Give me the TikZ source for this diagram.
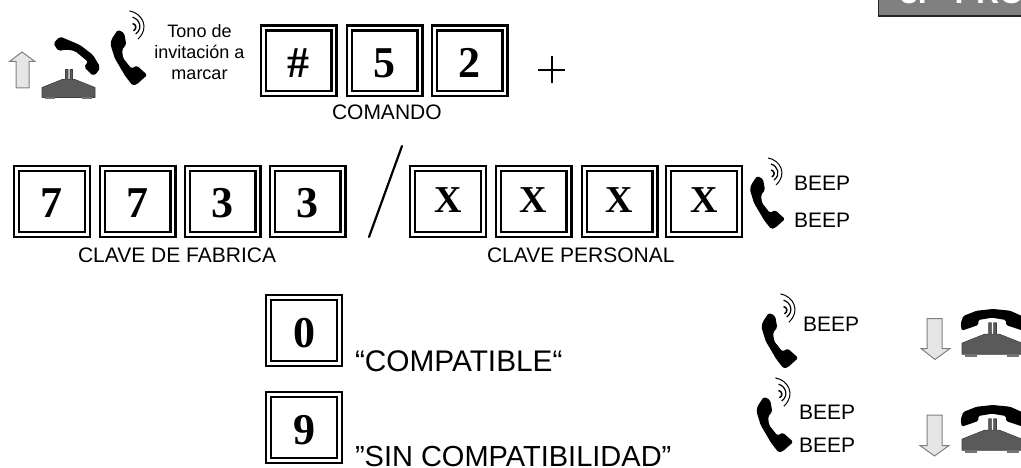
\documentclass[tikz,border=0pt]{standalone}
\usepackage{fontspec}
\setmainfont{Liberation Sans}
\newfontfamily\keyfont{Liberation Serif}
\definecolor{basegray}{HTML}{5A5A5A}
\definecolor{arrowfill}{HTML}{E6E6E6}
\definecolor{arrowline}{HTML}{808080}
\tikzset{
  keybox/.style={draw=black,line width=2.4pt,double=white,double distance=2.6pt,fill=white,
    minimum width=70.6pt,minimum height=65.6pt,inner sep=0pt,outer sep=0pt,
    text height=33pt,text depth=0pt,font=\keyfont\bfseries\fontsize{44}{44}\selectfont},
  keyx/.style={keybox,text height=23pt,font=\keyfont\bfseries\fontsize{38}{38}\selectfont},
  lbl/.style={anchor=base west,inner sep=0pt,outer sep=0pt,font=\fontsize{21}{21}\selectfont},
  biglbl/.style={lbl,font=\fontsize{29}{29}\selectfont},
  bigline/.style={line width=2.2pt,line cap=round},
  thinline/.style={line width=2pt},
  hollowarrow/.style={draw=arrowline,fill=arrowfill,line width=1pt,line join=miter},
  ringer/.pic={
    \fill[black,rounded corners=1.6pt] (17,16) -- (23,19) -- (25,30) -- (21,35) -- (22,43) -- (30,53) -- (35,50) -- (45,59) -- (35,68) -- (31,69) -- (24,60) -- (14,43) -- (10,30) -- (11,25) -- cycle;
    \draw[line width=1pt] (28,-2) .. controls (40,0) and (48,14) .. (36,25);
    \draw[line width=1.2pt] (31,4) .. controls (38,6) and (41,15) .. (34,20);
    \draw[line width=1.5pt] (31,10) .. controls (35,11) and (35,15) .. (32,17);
  },
  phonebase/.pic={
    \filldraw[fill=basegray,draw=black!75,line width=.6pt,line join=round]
      (0,1) -- (20,-7) -- (23.5,-7) -- (23.5,-17) -- (26,-17) -- (26,-7) -- (28,-7) -- (28,-17) -- (30.5,-17) -- (30.5,-7) -- (33,-7) -- (53,1) -- (53,11) -- (0,11) -- cycle;
    \fill[basegray!85] (3,11) rectangle (13,13);
    \fill[basegray!85] (40,11) rectangle (50,13);
  },
  onhook/.pic={
    \pic[scale=1.13] at (0,0) {phonebase};
    \fill[black,rounded corners=1.5pt] (-1.3,-18.7) -- (1.3,-26) -- (14.7,-31.3) -- (31,-33) -- (48,-31.3) -- (60,-26) -- (62,-18.7) -- (61,-11.3) -- (44,-17) -- (44,-22) -- (30,-24.3) -- (16.3,-22) -- (16.3,-17) -- (-0.3,-11.3) -- cycle;
  },
}
\begin{document}
\begin{tikzpicture}[x=1pt,y=-1pt]
\useasboundingbox (0,0) rectangle (1021,468);
% title box cut by the page edge
\begin{scope}
\clip (0,0) rectangle (1021,468);
\filldraw[fill=arrowline,draw=black!85,line width=1.6pt] (878.5,-5) rectangle (1030,16);
\node[lbl,text=white,font=\bfseries\fontsize{32}{32}\selectfont] (title) at (900,4) {3.\hspace{28pt}PRO};
\end{scope}
% off-hook phone
\path[hollowarrow] (22,52) -- (35,61.5) -- (29,61.5) -- (29,88) -- (16,88) -- (16,61.5) -- (9.5,61.5) -- cycle;
\pic at (42,86.5) {phonebase};
\fill[black,rounded corners=2pt] (53.3,43.3) -- (60,36.5) -- (80,45) -- (93,55) -- (100,66.7) -- (98,72) -- (93,76) -- (84,67) -- (88,61.7) -- (75,51) -- (66.7,49.5) -- (58.3,51) -- cycle;
\pic[scale=1.05] at (100,13) {ringer};
\node[align=center,inner sep=0pt,font=\fontsize{18}{21}\selectfont] (tono) at (199.5,52) {Tono de\\invitación a\\marcar};
% keys, first row
\node[keybox] (k1) at (298.5,61) {\#};
\node[keybox] (k2) at (384.5,61) {5};
\node[keybox] (k3) at (469.5,61) {2};
\draw[thinline] (538,70) -- (565,70);
\draw[thinline] (552,56) -- (552,83);
\node[lbl] (comando) at (332,120) {COMANDO};
% keys, second row
\node[keybox] (f1) at (52,201.5) {7};
\node[keybox] (f2) at (137.5,201.5) {7};
\node[keybox] (f3) at (222.5,201.5) {3};
\node[keybox] (f4) at (307.5,201.5) {3};
\draw[bigline] (369,237) -- (402,146);
\node[keyx] (p1) at (448,201.5) {X};
\node[keyx] (p2) at (533.5,201.5) {X};
\node[keyx] (p3) at (619.5,201.5) {X};
\node[keyx] (p4) at (704,201.5) {X};
\node[lbl] (fabrica) at (78,262) {CLAVE DE FABRICA};
\node[lbl] (personal) at (487,262) {CLAVE PERSONAL};
\pic at (740,160) {ringer};
\node[lbl] (b1) at (794,191) {BEEP};
\node[lbl] (b2) at (794,228) {BEEP};
% options
\node[keybox] (o0) at (304,330.5) {0};
\node[keybox] (o9) at (304,427.5) {9};
\node[biglbl,font=\fontsize{29.8}{30}\selectfont] (compat) at (355,371) {“COMPATIBLE“};
\node[biglbl] (sincompat) at (355,466) {”SIN COMPATIBILIDAD”};
\pic[scale=1.05] at (751,296) {ringer};
\node[lbl] (b3) at (803,331) {BEEP};
\pic[scale=1.05] at (746,380) {ringer};
\node[lbl] (b4) at (799,419) {BEEP};
\node[lbl] (b5) at (799,452) {BEEP};
\path[hollowarrow] (927,318.5) -- (942,318.5) -- (942,348.5) -- (950,348.5) -- (935,359.5) -- (921,348.5) -- (927,348.5) -- cycle;
\path[hollowarrow] (927,415) -- (942,415) -- (942,445.5) -- (949,445.5) -- (934.5,456) -- (920,445.5) -- (927,445.5) -- cycle;
\pic at (962,342) {onhook};
\pic at (962,438) {onhook};
\end{tikzpicture}
\end{document}
